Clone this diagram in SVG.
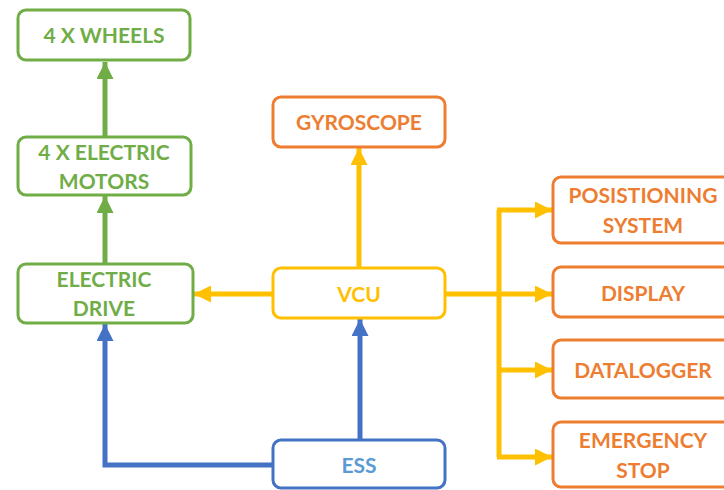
<svg xmlns="http://www.w3.org/2000/svg" width="724" height="490" viewBox="0 0 724 490">
<defs>
<style>
.box{fill:#fff;stroke-width:3}
.g{stroke:#70AD47}.o{stroke:#ED7D31}.y{stroke:#FFC000}.b{stroke:#4472C4}
text{font-family:Lato,"Open Sans","Liberation Sans",sans-serif;font-weight:bold;font-size:21px;text-anchor:middle;dominant-baseline:central}
.tg{fill:#70AD47}.to{fill:#ED7D31}.ty{fill:#FFC000}.tb{fill:#5B9BD5}
.c{fill:none;stroke-width:5}
</style>
<marker id="ag" viewBox="0 0 10 10" refX="10" refY="5" markerWidth="3.4" markerHeight="3.4" orient="auto" markerUnits="strokeWidth"><path d="M0,0L10,5L0,10z" fill="#70AD47"/></marker>
<marker id="ay" viewBox="0 0 10 10" refX="10" refY="5" markerWidth="3.4" markerHeight="3.4" orient="auto" markerUnits="strokeWidth"><path d="M0,0L10,5L0,10z" fill="#FFC000"/></marker>
<marker id="ab" viewBox="0 0 10 10" refX="10" refY="5" markerWidth="3.4" markerHeight="3.4" orient="auto" markerUnits="strokeWidth"><path d="M0,0L10,5L0,10z" fill="#4472C4"/></marker>
</defs>
<g id="connectors">
<path class="c g" d="M105,137V62" marker-end="url(#ag)"/>
<path class="c g" d="M105,264V196" marker-end="url(#ag)"/>
<path class="c y" d="M359,268V148" marker-end="url(#ay)"/>
<path class="c y" d="M273,294H194" marker-end="url(#ay)"/>
<path class="c y" d="M445,294H552" marker-end="url(#ay)"/>
<path class="c y" d="M499,210V457" />
<path class="c y" d="M497,210H552" marker-end="url(#ay)"/>
<path class="c y" d="M499,370H552" marker-end="url(#ay)"/>
<path class="c y" d="M497,457H552" marker-end="url(#ay)"/>
<path class="c b" d="M273,465H105V324" marker-end="url(#ab)"/>
<path class="c b" d="M360,440V319" marker-end="url(#ab)"/>
</g>
<g id="wheels"><rect class="box g" x="18" y="10" width="172" height="50" rx="8"/><text class="tg" x="104" y="34">4 X WHEELS</text></g>
<g id="motors"><rect class="box g" x="18" y="137" width="173" height="58" rx="8"/><text class="tg" x="104" y="151">4 X ELECTRIC</text><text class="tg" x="104" y="180">MOTORS</text></g>
<g id="drive"><rect class="box g" x="18" y="264" width="175" height="59" rx="8"/><text class="tg" x="104" y="278">ELECTRIC</text><text class="tg" x="104" y="307">DRIVE</text></g>
<g id="gyroscope"><rect class="box o" x="273" y="97" width="172" height="50" rx="8"/><text class="to" x="359" y="121">GYROSCOPE</text></g>
<g id="vcu"><rect class="box y" x="273" y="268" width="172" height="50" rx="8"/><text class="ty" x="359" y="293">VCU</text></g>
<g id="ess"><rect class="box b" x="273" y="440" width="172" height="48" rx="8"/><text class="tb" x="359" y="464">ESS</text></g>
<g id="positioning"><rect class="box o" x="553" y="177" width="180" height="66" rx="8"/><text class="to" x="643" y="194">POSISTIONING</text><text class="to" x="643" y="224">SYSTEM</text></g>
<g id="display"><rect class="box o" x="553" y="267" width="180" height="50" rx="8"/><text class="to" x="643" y="292">DISPLAY</text></g>
<g id="datalogger"><rect class="box o" x="553" y="340" width="180" height="58" rx="8"/><text class="to" x="643" y="369">DATALOGGER</text></g>
<g id="emergency"><rect class="box o" x="553" y="422" width="180" height="65" rx="8"/><text class="to" x="643" y="439">EMERGENCY</text><text class="to" x="643" y="469">STOP</text></g>
</svg>
